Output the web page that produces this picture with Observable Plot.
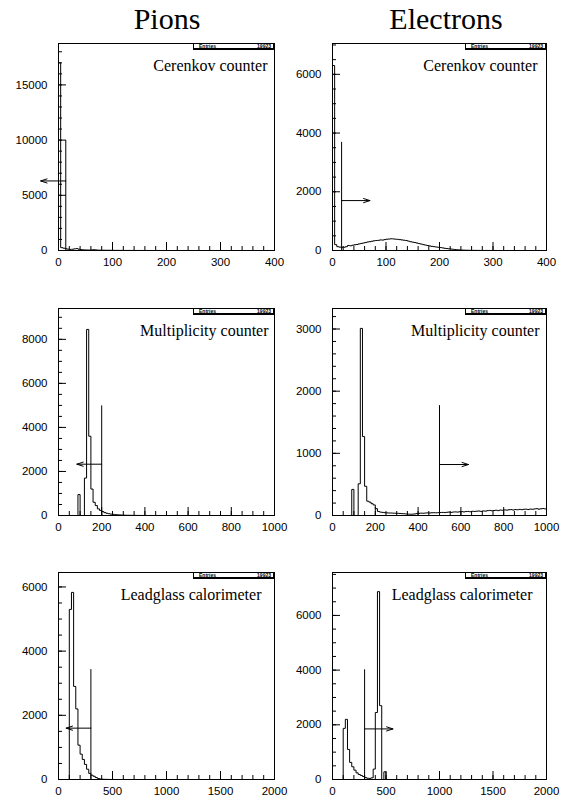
<!DOCTYPE html>
<html><head><meta charset="utf-8">
<script src="https://cdn.jsdelivr.net/npm/d3@7"></script>
<script src="https://cdn.jsdelivr.net/npm/@observablehq/plot@0.6"></script>
<style>
body{margin:0;background:#fff;width:561px;height:797px;position:relative;overflow:hidden;font-family:"Liberation Sans",Arial,sans-serif}
.panel{position:absolute}
.panel svg{overflow:visible}
.stats{position:absolute;height:7px;box-sizing:border-box;border:1px solid #000;border-right-width:2px;border-bottom-width:2px;background:#fff;font:bold 5px "Liberation Sans",Arial,sans-serif;line-height:4px;display:flex;justify-content:space-between;padding:0 2px 0 5px}
</style></head><body>
<div id="t1" style="position:absolute;top:4px;left:167px;transform:translateX(-50%);white-space:nowrap;font-family:'Liberation Serif',serif;font-size:30px;line-height:30px;font-weight:normal">Pions</div>
<div id="t2" style="position:absolute;top:4px;left:446px;transform:translateX(-50%);white-space:nowrap;font-family:'Liberation Serif',serif;font-size:30px;line-height:30px;font-weight:normal">Electrons</div>
<script>
// ---- data: histogram bin contents ----
const pionsCerenkov = [
17000,260,210,160,120,100,110,150,170,120,
80,60,50,45,40,55,70,50,35,30,
28,25,20,22,18,15,14,12,10,9,
8,7,6,6,5,5,4,4,3,3,
3,2,2,2,2,1,1,1,1,1,
1,0,1,0,0,1,0,0,0,0,
0,0,0,0,0,0,0,0,0,0,
0,0,0,0,0,0,0,0,0,0,
0,0,0,0,0,0,0,0,0,0,
0,0,0,0,0,0,0,0,0,0];
const electronsCerenkov = [
6300,200,130,115,110,110,130,170,160,180,
195,205,225,240,255,270,290,300,315,330,
340,345,360,355,370,385,390,400,395,385,
380,370,360,350,340,320,300,285,270,255,
235,220,200,185,170,155,140,130,120,110,
100,90,75,65,58,50,40,32,25,20,
15,12,10,8,6,5,5,4,3,3,
2,2,2,1,1,1,1,0,1,0,
0,0,0,0,0,0,0,0,0,0,
0,0,0,0,0,0,0,0,0,0];
const pionsMultiplicity = [
0,0,0,0,0,0,0,0,0,950,
0,0,1700,8450,3600,1200,600,450,300,230,
180,130,100,80,60,50,40,30,25,20,
15,12,10,8,6,5,4,3,2,2,
2,1,1,1,1,0,1,0,0,1,
0,0,0,0,0,0,0,0,0,0,
0,0,0,0,0,0,0,0,0,0,
0,0,0,0,0,0,0,0,0,0,
0,0,0,0,0,0,0,0,0,0,
0,0,0,0,0,0,0,0,0,0];
const electronsMultiplicity = [
0,0,0,0,0,0,0,0,0,420,
0,0,510,3010,1270,470,230,215,190,170,
110,65,55,50,45,42,40,40,38,36,
35,33,30,28,25,22,20,22,25,30,
35,38,36,40,42,40,44,45,43,46,
48,50,47,52,55,50,56,58,55,60,
62,58,64,66,60,68,65,70,72,66,
74,70,78,82,76,80,85,78,88,84,
90,86,92,95,88,96,92,98,94,100,
102,96,104,100,106,110,102,108,112,106];
const pionsLeadglass = [
0,0,0,0,0,5300,5830,2900,2200,1070,
790,625,470,320,190,135,100,60,30,15,
8,5,3,2,1,1,0,0,0,0,
0,0,0,0,0,0,0,0,0,0,
0,0,0,0,0,0,0,0,0,0,
0,0,0,0,0,0,0,0,0,0,
0,0,0,0,0,0,0,0,0,0,
0,0,0,0,0,0,0,0,0,0,
0,0,0,0,0,0,0,0,0,0,
0,0,0,0,0,0,0,0,0,0];
const electronsLeadglass = [
0,0,0,0,0,1870,2200,1100,625,465,
342,243,184,147,110,70,45,40,60,380,
2450,6870,2700,0,280,0,0,0,0,0,
0,0,0,0,0,0,0,0,0,0,
0,0,0,0,0,0,0,0,0,0,
0,0,0,0,0,0,0,0,0,0,
0,0,0,0,0,0,0,0,0,0,
0,0,0,0,0,0,0,0,0,0,
0,0,0,0,0,0,0,0,0,0,
0,0,0,0,0,0,0,0,0,0];

const histValues = [pionsCerenkov, electronsCerenkov, pionsMultiplicity, electronsMultiplicity, pionsLeadglass, electronsLeadglass];
const binWidths = [4, 4, 10, 10, 20, 20];
const detectorLabels = ["Cerenkov counter", "Multiplicity counter", "Leadglass calorimeter"];
const entries = "19923";
const xMax = [400, 1000, 2000];
const xMajorTicks = [[0,100,200,300,400],[0,200,400,600,800,1000],[0,500,1000,1500,2000]];
const xMinorStep = [20, 50, 100];
const yMax = [18750, 7050, 9400, 3330, 6450, 7570];
const yMajorTicks = [[0,5000,10000,15000],[0,2000,4000,6000],[0,2000,4000,6000,8000],[0,1000,2000,3000],[0,2000,4000,6000],[0,2000,4000,6000]];
const yMinorStep = [1000, 500, 500, 200, 500, 500];
// cuts: position, line height, arrow height, arrow end
const cutX = [13.5, 17, 200, 500, 300, 300];
const cutTop = [10000, 3700, 5000, 1775, 3440, 4030];
const arrowY = [6300, 1700, 2330, 820, 1600, 1850];
const arrowEnd = [-33, 70, 85, 635, 71, 565];

// ---- layout ----
const rowTops = [43, 308, 572];
const frameH = 207, mT = 10, mB = 30;
const cols = [{left:0, width:280, mL:58, mR:6}, {left:280, width:281, mL:52, mR:15}];
const labelDx = [-7, -9, -6, -7, -13, -14];

function minorTicks(max, step) { return d3.range(0, max + step/2, step); }

for (let i = 0; i < 6; i++) {
  const row = Math.floor(i / 2), col = i % 2, C = cols[col];
  const vals = histValues[i], w = binWidths[i];
  const pts = [{x: 0, y: 0}].concat(vals.map((v, k) => ({x: k * w, y: v})), [{x: vals.length * w, y: vals[vals.length - 1]}]);
  const cut = [{x: cutX[i], top: cutTop[i], ay: arrowY[i], end: arrowEnd[i]}];
  const fmt = d => String(d);
  const chart = Plot.plot({
    width: C.width, height: frameH + mT + mB,
    marginLeft: C.mL, marginRight: C.mR, marginTop: mT, marginBottom: mB,
    x: {domain: [0, xMax[row]]},
    y: {domain: [0, yMax[i]]},
    style: {fontFamily: '"Liberation Sans", Arial, sans-serif', fontSize: "11.5px", color: "#000", background: "transparent", overflow: "visible"},
    marks: [
      Plot.line(pts, {x: "x", y: "y", curve: "step-after", stroke: "#000", strokeWidth: 1}),
      Plot.axisX({ticks: minorTicks(xMax[row], xMinorStep[row]), tickSize: -4, tickFormat: () => "", label: null}),
      Plot.axisX({ticks: xMajorTicks[row], tickSize: -8, tickFormat: () => "", label: null}),
      Plot.axisX({ticks: xMajorTicks[row], tickSize: 0, tickPadding: 7, tickFormat: fmt, label: null}),
      Plot.axisY({ticks: minorTicks(yMax[i], yMinorStep[i]).filter(d => d <= yMax[i]), tickSize: -4, tickFormat: () => "", label: null}),
      Plot.axisY({ticks: yMajorTicks[i], tickSize: -8, tickFormat: () => "", label: null}),
      Plot.axisY({ticks: yMajorTicks[i], tickSize: 0, tickPadding: 11, tickFormat: fmt, label: null}),
      Plot.link(cut, {x1: "x", y1: () => 0, x2: "x", y2: "top", stroke: "#000", strokeWidth: 1}),
      Plot.arrow(cut, {x1: "x", y1: "ay", x2: "end", y2: "ay", stroke: "#000", strokeWidth: 1, headLength: 10, headAngle: 36}),
      Plot.frame({stroke: "#000", strokeWidth: 1}),
      Plot.text([detectorLabels[row]], {text: d => d, frameAnchor: "top-right", textAnchor: "end", lineAnchor: "middle", dx: labelDx[i], dy: 22,
        fontFamily: '"Liberation Serif", "Times New Roman", serif', fontSize: 16, fill: "#000"})
    ]
  });
  const div = document.createElement("div");
  div.className = "panel";
  div.style.left = C.left + "px";
  div.style.top = (rowTops[row] - mT) + "px";
  div.appendChild(chart);
  document.body.appendChild(div);
  const stats = document.createElement("div");
  stats.className = "stats";
  const frameRight = C.left + C.width - C.mR;
  stats.style.left = (frameRight - 81) + "px";
  stats.style.top = rowTops[row] + "px";
  stats.style.width = "82px";
  stats.innerHTML = "<span>Entries</span><span>" + entries + "</span>";
  document.body.appendChild(stats);
}
</script>
</body></html>
